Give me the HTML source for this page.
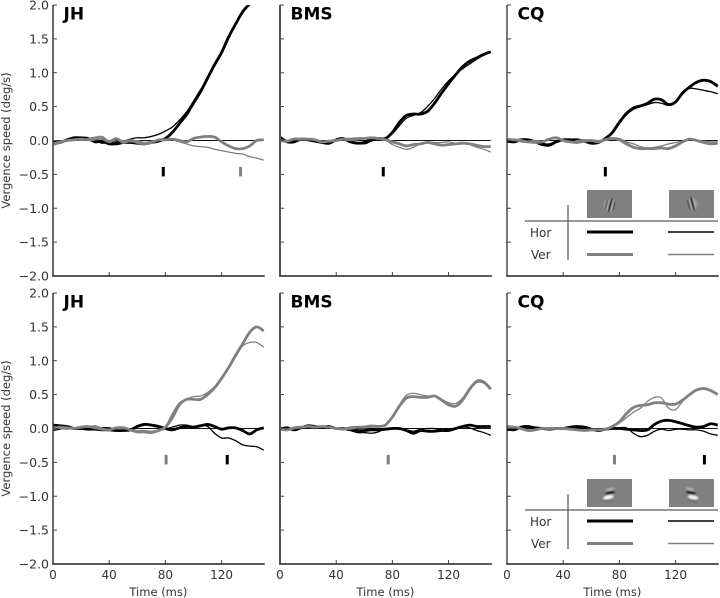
<!DOCTYPE html>
<html lang="en">
<head>
<meta charset="utf-8">
<title>Vergence speed over time</title>
<style>
html,body{margin:0;padding:0;background:#fff;}
svg{display:block;font-family:"DejaVu Sans","Liberation Sans",sans-serif;}
</style>
</head>
<body>
<svg id="chart" xmlns="http://www.w3.org/2000/svg" width="720" height="598" viewBox="0 0 720 598">
  <defs>
    <filter id="soft" x="-50%" y="-50%" width="200%" height="200%"><feGaussianBlur stdDeviation="0.6"/></filter>
    <filter id="soft2" x="-50%" y="-50%" width="200%" height="200%"><feGaussianBlur stdDeviation="0.8"/></filter>
  </defs>
  <g id="panels"></g>

  <g fill="#333" font-size="12">
    <g>
      <rect x="587" y="190" width="45" height="28" fill="#808080"/>
      <g filter="url(#soft)" transform="rotate(15 609.5 205)">
        <ellipse cx="604.5" cy="205" rx="0.9" ry="4.5" fill="#9a9a9a"/>
        <ellipse cx="606.7" cy="205" rx="0.9" ry="5.5" fill="#5c5c5c"/>
        <ellipse cx="608.4" cy="205" rx="0.8" ry="6.5" fill="#b8b8b8"/>
        <ellipse cx="610.2" cy="205" rx="1.2" ry="7" fill="#0a0a0a"/>
        <ellipse cx="612.2" cy="205" rx="0.8" ry="6.5" fill="#b8b8b8"/>
        <ellipse cx="614" cy="205" rx="0.9" ry="5.5" fill="#4a4a4a"/>
      </g>
    </g>
    <g>
      <rect x="669" y="190" width="45" height="28" fill="#808080"/>
      <g filter="url(#soft)" transform="rotate(-15 692 204)">
        <ellipse cx="696.5" cy="204" rx="0.9" ry="4.5" fill="#9a9a9a"/>
        <ellipse cx="688.7" cy="204" rx="0.9" ry="5.5" fill="#4a4a4a"/>
        <ellipse cx="690.6" cy="204" rx="0.8" ry="6.5" fill="#b8b8b8"/>
        <ellipse cx="692.6" cy="204" rx="1.2" ry="7" fill="#0a0a0a"/>
        <ellipse cx="694.5" cy="204" rx="0.8" ry="6.5" fill="#b8b8b8"/>
      </g>
    </g>
    <line x1="525" y1="221" x2="718" y2="221" stroke="#333" stroke-width="1"/>
    <line x1="568" y1="205" x2="568" y2="260" stroke="#333" stroke-width="1"/>
    <text x="530" y="237">Hor</text>
    <text x="531" y="259">Ver</text>
    <line x1="587" y1="232" x2="633" y2="232" stroke="#000" stroke-width="3"/>
    <line x1="668" y1="232" x2="714" y2="232" stroke="#000" stroke-width="1.4"/>
    <line x1="587" y1="254.5" x2="633" y2="254.5" stroke="#808080" stroke-width="3"/>
    <line x1="668" y1="254.5" x2="714" y2="254.5" stroke="#808080" stroke-width="1.4"/>
  </g>

  <g fill="#333" font-size="12">
    <g>
      <rect x="587" y="479" width="45" height="28" fill="#808080"/>
      <g filter="url(#soft2)" transform="rotate(-12 609 493)">
        <ellipse cx="611" cy="489.5" rx="4.5" ry="0.9" fill="#c4c4c4"/>
        <ellipse cx="610" cy="493" rx="5" ry="1" fill="#000"/>
        <ellipse cx="607.5" cy="497" rx="5.5" ry="2" fill="#f6f6f6"/>
        <ellipse cx="607" cy="500.5" rx="5" ry="0.8" fill="#666"/>
      </g>
    </g>
    <g>
      <rect x="669" y="479" width="45" height="28" fill="#808080"/>
      <g filter="url(#soft2)" transform="rotate(12 692 493)">
        <ellipse cx="689" cy="489.5" rx="4.5" ry="0.9" fill="#c4c4c4"/>
        <ellipse cx="691" cy="493" rx="5" ry="1" fill="#000"/>
        <ellipse cx="694" cy="497" rx="5.5" ry="2" fill="#f6f6f6"/>
        <ellipse cx="695" cy="500.5" rx="5" ry="0.8" fill="#666"/>
      </g>
    </g>
    <line x1="525" y1="510" x2="718" y2="510" stroke="#333" stroke-width="1"/>
    <line x1="568" y1="494" x2="568" y2="549" stroke="#333" stroke-width="1"/>
    <text x="530" y="526">Hor</text>
    <text x="531" y="548">Ver</text>
    <line x1="587" y1="521" x2="633" y2="521" stroke="#000" stroke-width="3"/>
    <line x1="668" y1="521" x2="714" y2="521" stroke="#000" stroke-width="1.4"/>
    <line x1="587" y1="543.5" x2="633" y2="543.5" stroke="#808080" stroke-width="3"/>
    <line x1="668" y1="543.5" x2="714" y2="543.5" stroke="#808080" stroke-width="1.4"/>
  </g>
</svg>
<script>
const times = [0,5,10,15,20, 25,30,35,40,45, 50,55,60,65,70, 75,80,85,90,95, 100,105,110,115,120, 125,130,135,140,145, 150];
const xTickValues = [0,40,80,120];
const xTickLabels = ['0','40','80','120'];
const yTickValues = [2,1.5,1,0.5,0,-0.5,-1,-1.5,-2];
const yTickLabels = ['2.0','1.5','1.0','0.5','0.0','\u22120.5','\u22121.0','\u22121.5','\u22122.0'];

const jhTopHorThick = [-.01,-.03,.01,.04,.04, .03,-.02,-.01,-.05,-.05, -.03,-.03,-.04,-.05,-.03, -.01,.03,.12,.25,.38, .55,.72,.92,1.12,1.3, 1.53,1.72,1.9,2.02,2.15, 2.25];
const jhTopHorThin = [0,-.02,.02,.03,.02, .01,-.01,-.04,-.03,-.02, -.01,.02,.04,.04,.06, .09,.14,.2,.3,.42, .58,.75,.9,1.1,1.28, 1.5,1.72,1.88,2.02,2.15, 2.25];
const jhTopVerThick = [-.05,-.02,0,.01,.02, .01,.02,.03,-.02,.03, -.03,0,-.03,-.05,-.03, .01,.01,.02,0,-.02, .03,.05,.06,.05,-.02, -.08,-.12,-.12,-.08,0, .01];
const jhTopVerThin = [-.07,-.04,-.01,.02,0, .03,.05,.06,-.01,.01, 0,-.02,0,-.03,-.01, .01,.01,.01,-.02,-.05, -.08,-.09,-.1,-.13,-.15, -.17,-.19,-.2,-.24,-.26, -.29];

const bmsTopHorThick = [.05,-.02,-.02,.02,.01, -.01,-.03,-.04,.01,.03, -.02,-.04,-.03,.02,.03, .03,.12,.27,.37,.39, .39,.43,.55,.7,.84, .97,1.09,1.17,1.22,1.27, 1.31];
const bmsTopHorThin = [.03,0,.03,.02,0, -.02,-.02,-.02,.01,.01, -.01,-.03,-.05,-.01,.04, .03,.1,.22,.33,.37, .41,.5,.62,.76,.88, .98,1.06,1.13,1.2,1.26, 1.3];
const bmsTopVerThick = [0,-.01,.02,.02,.02, .01,-.02,-.01,0,.02, .02,.03,.03,.04,.03, .01,-.02,-.05,-.08,-.06, -.05,-.03,-.05,-.07,-.06, -.05,-.04,-.05,-.07,-.09, -.09];
const bmsTopVerThin = [-.02,-.01,.01,.02,.03, 0,-.02,0,.01,.01, 0,.01,.03,.05,.02, .01,-.06,-.1,-.13,-.1, -.05,-.02,-.03,-.03,-.02, -.04,-.03,-.06,-.1,-.13, -.17];

const cqTopHorThick = [-.01,-.02,.01,.01,-.02, -.06,-.07,-.02,.01,.01, .01,-.01,-.04,-.03,.03, .12,.27,.4,.48,.51, .55,.61,.6,.53,.57, .7,.79,.86,.89,.87, .8];
const cqTopHorThin = [-.01,-.03,0,.02,-.01, -.04,-.05,-.01,.01,.02, 0,-.01,-.03,-.03,.02, .1,.25,.38,.46,.5, .53,.56,.55,.52,.58, .72,.77,.76,.74,.72, .69];
const cqTopVerThick = [.01,.01,0,-.02,-.01, -.02,.02,.04,0,-.02, -.03,-.01,0,-.02,.01, .03,.01,-.05,-.1,-.12, -.12,-.12,-.11,-.12,-.08, -.02,.02,0,-.03,-.05, -.04];
const cqTopVerThin = [.03,.01,-.02,-.03,-.04, -.03,.01,.03,0,-.03, 0,.01,.01,0,.02, .04,.03,-.02,-.05,-.09, -.11,-.1,-.08,-.05,-.03, -.01,.02,0,-.01,-.02, -.02];

const jhBotHorThick = [.05,.04,.03,0,0, -.01,-.01,-.02,-.02,-.03, -.03,-.02,.03,.06,.05, .03,0,-.02,.01,.03, .02,.04,.06,.03,-.01, .01,.01,-.03,-.08,-.02, .01];
const jhBotHorThin = [-.03,-.01,.02,.01,.01, 0,0,.01,.01,-.02, -.03,-.01,.04,.07,.06, .04,0,.02,.05,.05, .03,.05,.03,-.07,-.14, -.14,-.18,-.24,-.26,-.27, -.32];
const jhBotVerThick = [0,.02,.01,0,.02, .03,.01,-.01,-.02,.01, .01,-.02,-.05,-.05,-.06, -.03,.02,.16,.35,.43, .43,.43,.5,.6,.74, .9,1.08,1.25,1.42,1.5, 1.44];
const jhBotVerThin = [.03,0,-.01,.01,.01, .02,.04,0,-.02,0, .02,-.01,-.03,-.03,-.04, -.02,.03,.22,.38,.43, .47,.48,.53,.62,.75, .9,1.1,1.22,1.27,1.27, 1.2];

const bmsBotHorThick = [-.01,.01,-.02,.01,.04, .03,.02,.03,0,0, -.01,-.03,-.03,-.02,-.02, -.01,0,0,-.03,-.07, -.03,-.04,-.04,-.03,-.03, 0,.03,.05,.03,.03, .03];
const bmsBotHorThin = [.02,-.02,-.01,0,.01, 0,.01,.01,0,-.01, -.03,-.06,-.06,-.07,-.05, 0,0,-.01,-.02,-.04, -.01,0,0,-.02,-.01, 0,.02,.01,-.03,-.06, -.1];
const bmsBotVerThick = [0,-.02,.01,.02,.03, .02,.03,.02,0,-.01, .01,.02,.02,.03,.03, .05,.17,.33,.45,.47, .46,.46,.48,.42,.35, .33,.42,.58,.69,.68, .58];
const bmsBotVerThin = [-.02,-.03,0,.01,.02, .03,.02,.01,.01,0, -.01,.01,.03,.05,.04, .05,.18,.35,.49,.52, .5,.48,.48,.43,.38, .37,.45,.6,.71,.7, .6];

const cqBotHorThick = [0,-.02,.02,.03,.01, 0,-.01,0,0,.02, .03,.02,-.01,-.03,-.01, 0,0,-.01,-.02,-.03, -.02,.06,.11,.12,.1, .07,.04,.02,.03,.07, .05];
const cqBotHorThin = [-.03,-.01,.01,.02,0, 0,0,0,.01,.01, .01,0,-.02,-.04,-.02, 0,.01,.01,-.07,-.12, -.1,-.04,-.01,-.03,-.01, -.01,-.02,-.02,-.04,-.08, -.1];
const cqBotVerThick = [.02,.02,0,-.03,-.02, 0,0,0,0,-.01, -.02,-.03,-.02,-.02,-.01, .03,.1,.22,.31,.34, .35,.38,.38,.36,.36, .42,.5,.57,.59,.56, .5];
const cqBotVerThin = [.04,.03,-.01,-.03,-.01, 0,.01,.01,0,-.01, -.02,-.02,-.03,-.02,-.01, .02,.08,.16,.24,.3, .4,.46,.45,.3,.28, .4,.5,.56,.58,.55, .5];

const jhTopMarkers = [[78.5,'#000'],[133.5,'#808080']];
const bmsTopMarkers = [[73.5,'#000']];
const cqTopMarkers = [[70,'#000']];
const jhBotMarkers = [[80.5,'#808080'],[124,'#000']];
const bmsBotMarkers = [[77,'#808080']];
const cqBotMarkers = [[76.5,'#808080'],[140.5,'#000']];

const panels = [
  {name:'JH',key:'jh-top',x0:53,top:5,hT:jhTopHorThick,hN:jhTopHorThin,vT:jhTopVerThick,vN:jhTopVerThin,marks:jhTopMarkers,yLabels:true,xLabels:false,spine:'#444',sw:1.6},
  {name:'BMS',key:'bms-top',x0:280,top:5,hT:bmsTopHorThick,hN:bmsTopHorThin,vT:bmsTopVerThick,vN:bmsTopVerThin,marks:bmsTopMarkers,yLabels:false,xLabels:false,spine:'#555',sw:2},
  {name:'CQ',key:'cq-top',x0:507,top:5,hT:cqTopHorThick,hN:cqTopHorThin,vT:cqTopVerThick,vN:cqTopVerThin,marks:cqTopMarkers,yLabels:false,xLabels:false,spine:'#222',sw:1.2},
  {name:'JH',key:'jh-bottom',x0:53,top:293,hT:jhBotHorThick,hN:jhBotHorThin,vT:jhBotVerThick,vN:jhBotVerThin,marks:jhBotMarkers,yLabels:true,xLabels:true,spine:'#444',sw:1.6},
  {name:'BMS',key:'bms-bottom',x0:280,top:293,hT:bmsBotHorThick,hN:bmsBotHorThin,vT:bmsBotVerThick,vN:bmsBotVerThin,marks:bmsBotMarkers,yLabels:false,xLabels:true,spine:'#555',sw:2},
  {name:'CQ',key:'cq-bottom',x0:507,top:293,hT:cqBotHorThick,hN:cqBotHorThin,vT:cqBotVerThick,vN:cqBotVerThin,marks:cqBotMarkers,yLabels:false,xLabels:true,spine:'#222',sw:1.2}
];

const NS = 'http://www.w3.org/2000/svg';
const PX_PER_MS = 1.405;
const PX_PER_UNIT = 67.75;
const root = document.getElementById('panels');

function mk(tag, parent, props, text) {
  const el = document.createElementNS(NS, tag);
  for (const k in props) el.setAttribute(k, props[k]);
  if (text !== undefined) el.textContent = text;
  parent.appendChild(el);
  return el;
}

function smoothPath(pts) {
  let d = 'M' + pts[0][0].toFixed(2) + ' ' + pts[0][1].toFixed(2);
  for (let i = 0; i < pts.length - 1; i++) {
    const p0 = pts[Math.max(i - 1, 0)], p1 = pts[i], p2 = pts[i + 1], p3 = pts[Math.min(i + 2, pts.length - 1)];
    const c1x = p1[0] + (p2[0] - p0[0]) / 6, c1y = p1[1] + (p2[1] - p0[1]) / 6;
    const c2x = p2[0] - (p3[0] - p1[0]) / 6, c2y = p2[1] - (p3[1] - p1[1]) / 6;
    d += 'C' + c1x.toFixed(2) + ' ' + c1y.toFixed(2) + ' ' + c2x.toFixed(2) + ' ' + c2y.toFixed(2) + ' ' + p2[0].toFixed(2) + ' ' + p2[1].toFixed(2);
  }
  return d;
}

panels.forEach(function (p, idx) {
  const xScale = function (t) { return p.x0 + t * PX_PER_MS; };
  const yScale = function (v) { return p.top + 135.5 - v * PX_PER_UNIT; };
  const right = xScale(150), bottom = yScale(-2);

  const g = mk('g', root, {});
  
  

  const clipId = 'clip' + idx;
  const clip = mk('clipPath', g, {id: clipId});
  mk('rect', clip, {x: p.x0, y: p.top, width: right - p.x0 + 2, height: bottom - p.top});

  const zero = mk('line', g, {x1: p.x0, y1: yScale(0), x2: right, y2: yScale(0), stroke: '#111', 'stroke-width': 1.1});
  
  

  const seriesList = [
    ['hor-thin', p.hN, '#000', 1.3],
    ['hor-thick', p.hT, '#000', 2.8],
    ['ver-thin', p.vN, '#808080', 1.3],
    ['ver-thick', p.vT, '#808080', 2.8]
  ];
  seriesList.forEach(function (s) {
    const pts = times.map(function (t, i) { return [xScale(t), yScale(s[1][i])]; });
    const path = mk('path', g, {d: smoothPath(pts), fill: 'none', stroke: s[2], 'stroke-width': s[3], 'stroke-linejoin': 'round', 'clip-path': 'url(#' + clipId + ')'});
    
    
  });

  p.marks.forEach(function (m) {
    const mark = mk('rect', g, {x: xScale(m[0]) - 1.5, y: yScale(-0.39), width: 3, height: 9.5, fill: m[1]});
    
    
  });

  yTickValues.forEach(function (v, i) {
    const tick = mk('line', g, {x1: p.x0, y1: yScale(v), x2: p.x0 + 4, y2: yScale(v), stroke: '#444', 'stroke-width': 1});
    
    
    if (p.yLabels) {
      const lab = mk('text', g, {x: p.x0 - 4, y: yScale(v) + 4.6, 'text-anchor': 'end', 'font-size': 12.5, fill: '#333'}, yTickLabels[i]);
      
      
    }
  });

  xTickValues.forEach(function (v, i) {
    const tick = mk('line', g, {x1: xScale(v), y1: bottom, x2: xScale(v), y2: bottom - 4, stroke: '#444', 'stroke-width': 1});
    
    
    if (p.xLabels) {
      const lab = mk('text', g, {x: xScale(v), y: bottom + 15, 'text-anchor': 'middle', 'font-size': 12, fill: '#333'}, xTickLabels[i]);
      
      
    }
  });

  const leftSpine = mk('line', g, {x1: p.x0, y1: p.top, x2: p.x0, y2: bottom, stroke: p.spine, 'stroke-width': p.sw});
  
  
  const botSpine = mk('line', g, {x1: p.x0 - 0.8, y1: bottom, x2: right + 1, y2: bottom, stroke: '#222', 'stroke-width': 1.5});
  
  

  const title = mk('text', g, {x: p.x0 + 10.5, y: p.top + 14.5, 'font-size': 17, 'font-weight': 'bold', fill: '#000'}, p.name);
  
  

  if (p.yLabels) {
    const cy = yScale(0);
    const yt = mk('text', g, {x: 10, y: cy, 'text-anchor': 'middle', 'font-size': 11.5, fill: '#333', transform: 'rotate(-90 10 ' + cy + ')'}, 'Vergence speed (deg/s)');
    
    
  }
  if (p.xLabels) {
    const xt = mk('text', g, {x: xScale(75), y: bottom + 32, 'text-anchor': 'middle', 'font-size': 11.5, fill: '#333'}, 'Time (ms)');
    
    
  }
});
</script>
</body>
</html>
